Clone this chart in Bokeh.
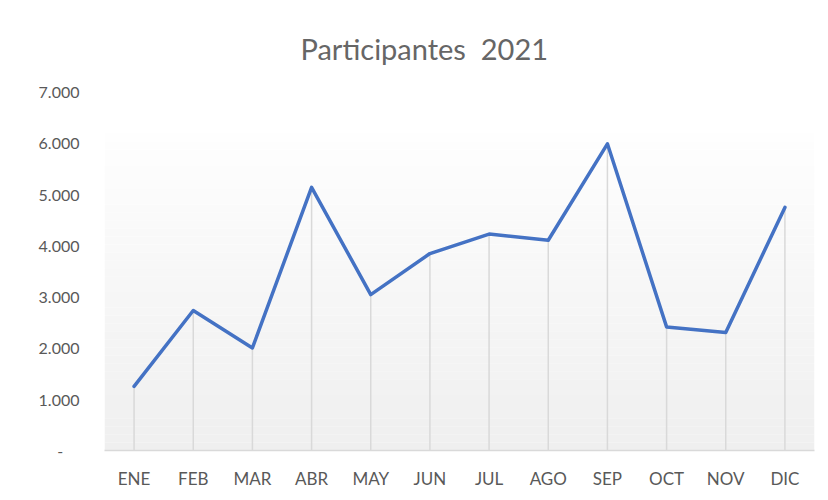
from bokeh.plotting import figure
from bokeh.models import FactorRange, Range1d, FixedTicker, BoxAnnotation
from bokeh.embed import file_html
from bokeh.resources import INLINE
import numpy as np

# ---- data ----
months = ["ENE", "FEB", "MAR", "ABR", "MAY", "JUN", "JUL", "AGO", "SEP", "OCT", "NOV", "DIC"]
participantes = [1250, 2730, 2000, 5130, 3040, 3840, 4220, 4100, 5980, 2410, 2300, 4740]
y_ticks = [0, 1000, 2000, 3000, 4000, 5000, 6000, 7000]
y_tick_labels = ["-\u00a0\u00a0\u00a0\u00a0", "1.000", "2.000", "3.000", "4.000", "5.000", "6.000", "7.000"]
title_text = "Participantes\u00a0 2021"

FONT = "Lato"
TXT = "#595959"

p = figure(
    width=822, height=492,
    x_range=FactorRange(*months, range_padding=0),
    y_range=Range1d(0, 7000),
    output_backend="svg", toolbar_location=None,
    min_border_left=104, min_border_right=8, min_border_top=91, min_border_bottom=42,
)
p.background_fill_color = "white"
p.border_fill_color = "white"
p.outline_line_color = None
p.xgrid.grid_line_color = None
p.ygrid.grid_line_color = None

# title
p.title.text = title_text
p.title.align = "left"
p.title.offset = 196
p.title.standoff = 52
p.title.text_font = FONT
p.title.text_font_size = "29px"
p.title.text_font_style = "normal"
p.title.text_color = "#666666"

# gradient plot-area fill (decorative bands)
g_top = 6180
n = 40
edges = np.linspace(0, g_top, n + 1)
for i in range(n):
    t = (i + 0.5) / n  # 0 bottom -> 1 top
    c0, c1 = 0xEF, 0xFE
    v = int(round(c0 + (c1 - c0) * t))
    col = "#%02x%02x%02x" % (v, v, v)
    p.add_layout(BoxAnnotation(bottom=edges[i], top=edges[i + 1], fill_color=col,
                               fill_alpha=1.0, line_alpha=0, level="underlay"))

# drop lines
p.segment(x0=months, y0=[0] * len(months), x1=months, y1=participantes,
          line_color="#d9d9d9", line_width=1.5)

# main line
p.line(months, participantes, line_color="#4472C4", line_width=3.5,
       line_join="round", line_cap="round")

# axes
xa = p.xaxis[0]
xa.axis_line_color = "#d9d9d9"
xa.axis_line_width = 1.5
xa.major_tick_line_color = None
xa.minor_tick_line_color = None
xa.major_tick_out = 0
xa.major_tick_in = 0
xa.major_label_standoff = 17
xa.major_label_text_font = FONT
xa.major_label_text_font_size = "17px"
xa.major_label_text_color = TXT

ya = p.yaxis[0]
ya.ticker = FixedTicker(ticks=y_ticks)
ya.major_label_overrides = {t: l for t, l in zip(y_ticks, y_tick_labels)}
ya.axis_line_color = None
ya.major_tick_line_color = None
ya.minor_tick_line_color = None
ya.major_tick_out = 0
ya.major_tick_in = 0
ya.major_label_standoff = 25
ya.major_label_text_font = FONT
ya.major_label_text_font_size = "16px"
ya.major_label_text_color = TXT

open("out.html", "w").write(file_html(p, INLINE))
